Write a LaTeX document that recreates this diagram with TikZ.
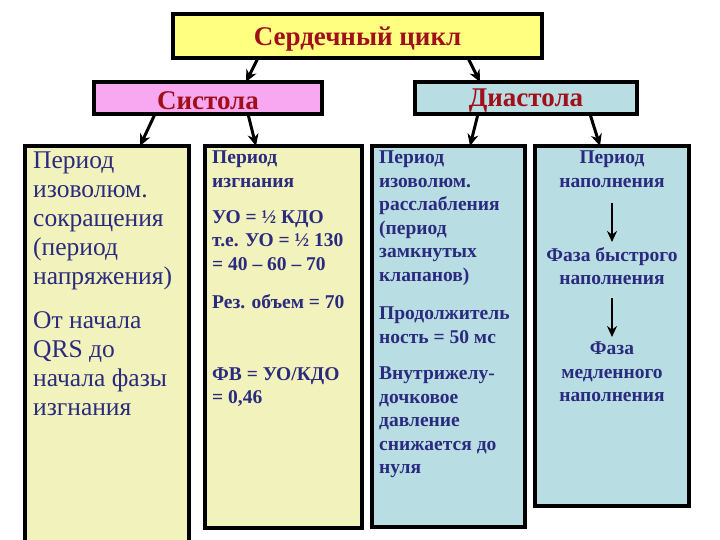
\documentclass[tikz,border=0pt]{standalone}
\usepackage{fontspec}
\setmainfont{Liberation Serif}
\usetikzlibrary{arrows.meta}
\definecolor{ttl}{HTML}{A0101A}
\definecolor{txt}{HTML}{2A2A7E}
\definecolor{yel}{HTML}{FFFF80}
\definecolor{pnk}{HTML}{F8A8F0}
\definecolor{lbl}{HTML}{B8DDE2}
\definecolor{lyl}{HTML}{F2F2BC}
\tikzset{
 box/.style={draw=black,line width=3.5pt},
 hd/.style={font=\fontsize{27}{30}\selectfont\bfseries,text=ttl},
 bt/.style={font=\fontsize{19.5}{23.5}\selectfont\bfseries,text=txt,align=left,anchor=north west,inner sep=0pt},
 bc/.style={font=\fontsize{19.5}{23.5}\selectfont\bfseries,text=txt,align=center,anchor=north,inner sep=0pt},
 big/.style={font=\fontsize{25.5}{29}\selectfont,text=txt,align=left,anchor=north west,inner sep=0pt},
 arr/.style={-{Stealth[length=12pt,width=11pt]},line width=3pt,black},
 sarr/.style={-{Stealth[length=11pt,width=10pt]},line width=2.8pt,black},
}
\begin{document}
\begin{tikzpicture}[x=1pt,y=-1pt]
\useasboundingbox (0,0) rectangle (720,540);
\fill[white] (0,0) rectangle (720,540);
% boxes
\draw[box,fill=yel] (173,14) rectangle (542,58);
\draw[box,fill=pnk] (94,82) rectangle (322,114);
\draw[box,fill=lbl] (415,82) rectangle (637,114);
\draw[box,fill=lyl] (25,146) rectangle (189,545);
\draw[box,fill=lyl] (205,146) rectangle (362,528);
\draw[box,fill=lbl] (372,146) rectangle (525,527);
\draw[box,fill=lbl] (535,146) rectangle (689,506);
\coordinate (c1) at (258,58); \coordinate (s1) at (246,82);
\coordinate (c2) at (468,58); \coordinate (d1) at (480,82);
\coordinate (s2) at (155,114); \coordinate (p1) at (140,146);
\coordinate (s3) at (248,114); \coordinate (p2) at (256,146);
\coordinate (d2) at (478,114); \coordinate (p3) at (470,146);
\coordinate (d3) at (590,114); \coordinate (p4) at (600,146);
\coordinate (g1) at (612,203); \coordinate (g2) at (612,242);
\coordinate (g3) at (612,298); \coordinate (g4) at (612,337);
% titles
\node[hd] (t0) at (357.5,39) {Сердечный цикл};
\node[hd] (t1) at (208,101) {Систола};
\node[hd] (t2) at (526,101) {Диастола};
% column 1
\node[big] (a1) at (33,152) {Период\\изоволюм.\\сокращения\\(период\\напряжения)};
\node[big] (a2) at (33,311) {От начала\\QRS до\\начала фазы\\изгнания};
% column 2
\node[bt] (b1) at (212,151) {Период\\изгнания};
\node[bt] (b2) at (212,210) {УО = ½ КДО\\т.е. УО = ½ 130\\= 40 – 60 – 70};
\node[bt] (b3) at (212,294) {Рез. объем = 70};
\node[bt] (b4) at (212,367) {ФВ = УО/КДО\\= 0,46};
% column 3
\node[bt] (e1) at (379,151) {Период\\изоволюм.\\расслабления\\(период\\замкнутых\\клапанов)};
\node[bt] (e2) at (379,307) {Продолжитель\\ность = 50 мс};
\node[bt] (e3) at (379,367) {Внутрижелу-\\дочковое\\давление\\снижается до\\нуля};
% column 4
\node[bc] (f1) at (612,151) {Период\\наполнения};
\node[bc] (f2) at (612,247) {Фаза быстрого\\наполнения};
\node[bc] (f3) at (612,342) {Фаза\\медленного\\наполнения};
% arrows
\draw[arr] (c1) -- (s1);
\draw[arr] (c2) -- (d1);
\draw[arr] (s2) -- (p1);
\draw[arr] (s3) -- (p2);
\draw[arr] (d2) -- (p3);
\draw[arr] (d3) -- (p4);
\draw[sarr] (g1) -- (g2);
\draw[sarr] (g3) -- (g4);
\end{tikzpicture}
\end{document}
